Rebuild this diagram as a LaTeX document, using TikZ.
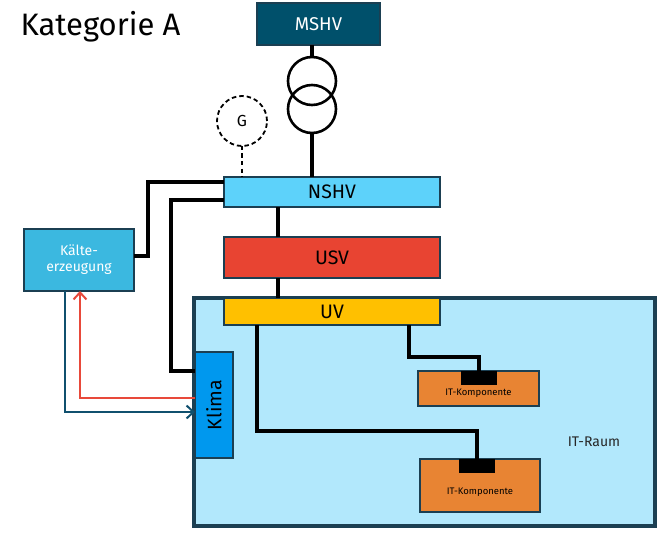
\documentclass[tikz,border=0pt]{standalone}
\usepackage{fontspec}
\setmainfont{Fira Sans}
\usetikzlibrary{arrows.meta,calc}
\definecolor{mshv}{HTML}{00506B}
\definecolor{nshv}{HTML}{5DD2FA}
\definecolor{usv}{HTML}{E84432}
\definecolor{uv}{HTML}{FFC000}
\definecolor{raum}{HTML}{B2E8FC}
\definecolor{klima}{HTML}{0098EE}
\definecolor{kaelte}{HTML}{3BB8E0}
\definecolor{itk}{HTML}{E88433}
\definecolor{edge}{HTML}{1B3F52}
\definecolor{hot}{HTML}{E8493A}
\definecolor{cold}{HTML}{10506E}
\begin{document}
\begin{tikzpicture}[x=1pt,y=-1pt,
  box/.style={draw=edge,line width=1.8pt,inner sep=0pt,outer sep=0pt,anchor=north west},
  wire/.style={line width=3.2pt,black},
  flow/.style={line width=2.5pt,-{Straight Barb[length=7pt,width=13pt,line width=2pt]}}]
\useasboundingbox (0,0) rectangle (657,535);
\node[anchor=west,font=\fontsize{31}{35}\selectfont] (title) at (17,27) {Kategorie A};
\node[box,fill=mshv,minimum width=123pt,minimum height=42pt,text=white,font=\fontsize{18.5}{20}\selectfont] (mshv) at (257,3) {MSHV};
\node[box,draw=black,line width=2.6pt,circle,minimum size=48pt,anchor=center] (t1) at (312,81) {};
\node[box,draw=black,line width=2.6pt,circle,minimum size=48pt,anchor=center] (t2) at (312,109) {};
\node[box,draw=black,line width=1.8pt,dash pattern=on 4.5pt off 3pt,circle,minimum size=50pt,anchor=center,font=\fontsize{16}{18}\selectfont] (g) at (242,121) {G};
\node[box,fill=raum,draw=edge,line width=3.5pt,minimum width=461pt,minimum height=228pt] (raum) at (194,298) {};
\node[font=\fontsize{14}{16}\selectfont,text=black!85] (raumlbl) at (594,442) {IT-Raum};
\node[box,fill=nshv,minimum width=216pt,minimum height=30pt,font=\fontsize{19.5}{21}\selectfont] (nshv) at (224,177) {NSHV};
\node[box,fill=usv,minimum width=216pt,minimum height=41pt,font=\fontsize{19.5}{21}\selectfont] (usv) at (224,237) {USV};
\node[box,fill=uv,minimum width=216pt,minimum height=27pt,font=\fontsize{19.5}{21}\selectfont] (uv) at (224,298) {UV};
\node[box,fill=klima,minimum width=38pt,minimum height=106pt] (klima) at (195,352) {};
\node[rotate=90,font=\fontsize{19.5}{21}\selectfont] (klimalbl) at (214,405) {Klima};
\node[box,fill=kaelte,minimum width=110pt,minimum height=62pt,text=white,align=center,font=\fontsize{14}{16}\selectfont] (kaelte) at (24,229) {Kälte-\\erzeugung};
\node[box,fill=itk,minimum width=121pt,minimum height=35pt] (itk1) at (418,371) {};
\node[font=\fontsize{9.5}{11}\selectfont] (itk1lbl) at (478.5,393) {IT-Komponente};
\node[fill=black,inner sep=0pt,minimum width=36pt,minimum height=14pt,anchor=north west] (p1) at (461,371) {};
\node[box,fill=itk,minimum width=120pt,minimum height=53pt] (itk2) at (420,459) {};
\node[font=\fontsize{9.5}{11}\selectfont] (itk2lbl) at (480,492) {IT-Komponente};
\node[fill=black,inner sep=0pt,minimum width=36pt,minimum height=14pt,anchor=north west] (p2) at (459,459) {};
% transformer wires
\draw[wire] (mshv.south -| t1.north) -- (t1.north);
\draw[wire] (t2.south) -- (t2.south |- nshv.north);
\draw[line width=1.8pt,dash pattern=on 4.5pt off 3pt] (g.south) -- (g.south |- nshv.north);
% busbars
\draw[wire] ($(nshv.south west)+(54,0)$) -- ($(usv.north west)+(54,0)$);
\draw[wire] ($(usv.south west)+(54,0)$) -- ($(uv.north west)+(54,0)$);
% NSHV to Kaelte and Klima
\draw[wire] ($(nshv.north west)+(0,5)$) -| (148,256) -- (kaelte.east |- 0,256);
\draw[wire] ($(nshv.north west)+(0,23)$) -| (171,371) -- (klima.west |- 0,371);
% UV to IT
\draw[wire] ($(uv.south west)+(185,0)$) |- (479,357) -- (479,371);
\draw[wire] ($(uv.south west)+(33,0)$) |- (477,431) -- (477,459);
% cooling
\draw[flow,hot] ($(klima.north west)+(0,46)$) -| ($(kaelte.south west)+(56,0)$);
\draw[flow,cold] ($(kaelte.south west)+(41,0)$) |- ($(klima.north west)+(0,60)$);
\end{tikzpicture}
\end{document}
